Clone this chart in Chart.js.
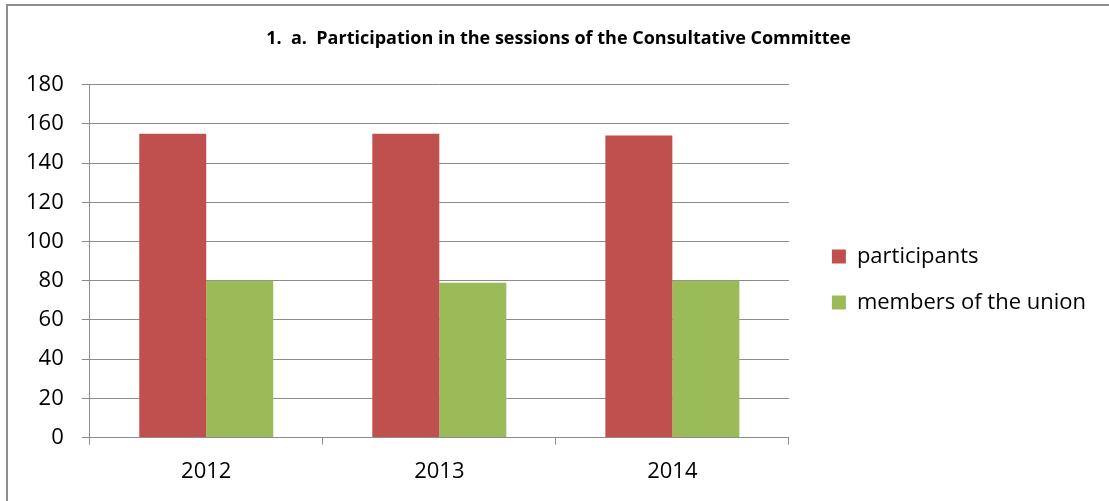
<!DOCTYPE html>
<html>
<head>
<meta charset="utf-8">
<script src="https://cdn.jsdelivr.net/npm/chart.js@4"></script>
<style>
  body { margin: 0; background: #fff; }
  #wrap { position: absolute; left: 0; top: 0; width: 1109px; height: 501px; }
  #frame { position: absolute; left: 6px; top: 4px; width: 1200px; height: 600px;
           border-left: 2px solid #8e8e8e; border-top: 2px solid #8e8e8e; }
</style>
</head>
<body>
<div id="frame"></div>
<div id="wrap"><canvas id="section"></canvas></div>
<script>
let years = ["2012", "2013", "2014"];
let participants = [155, 155, 154];
let members = [80, 79, 80];
let yTicks = [0, 20, 40, 60, 80, 100, 120, 140, 160, 180];

let font = "'Open Sans', 'Liberation Sans', sans-serif";
let gridColor = "#8c8c8c";

// blank scale used only as horizontal spacing
function spacer(width, weight) {
  return {
    type: "linear",
    position: "right",
    display: true,
    weight: weight,
    grid: { display: false },
    border: { display: false },
    ticks: { display: false },
    afterFit: (scale) => {
      scale.width = width;
    },
  };
}

const ctx = document.getElementById("section");

new Chart(ctx, {
  type: "bar",
  data: {
    labels: years,
    datasets: [
      {
        label: "participants",
        data: participants,
        backgroundColor: "#c0504d",
        barPercentage: 1,
        categoryPercentage: 0.575,
      },
      {
        label: "members of the union",
        data: members,
        backgroundColor: "#9bbb59",
        barPercentage: 1,
        categoryPercentage: 0.575,
      },
    ],
  },
  options: {
    responsive: true,
    maintainAspectRatio: false,
    animation: false,
    layout: {
      padding: { left: 8, top: 18, bottom: 2, right: 0 },
    },
    plugins: {
      title: {
        display: true,
        text: "1.  a.  Participation in the sessions of the Consultative Committee",
        color: "#000",
        font: { family: font, size: 18, weight: "bold" },
        padding: { top: 10, bottom: 35 },
      },
      legend: {
        position: "right",
        maxWidth: 400,
        // blank legend title, only pushes the two entries a bit lower
        title: {
          display: true,
          text: " ",
          font: { family: font, size: 10 },
          padding: { top: 15, bottom: 15 },
        },
        labels: {
          color: "#000",
          font: { family: font, size: 22 },
          boxWidth: 14,
          boxHeight: 14,
          padding: 24,
        },
      },
      tooltip: { enabled: false },
    },
    scales: {
      x: {
        grid: {
          offset: true,
          drawOnChartArea: false,
          color: gridColor,
          tickLength: 7,
        },
        border: { color: gridColor },
        ticks: {
          color: "#000",
          font: { family: font, size: 22 },
          padding: 14,
        },
      },
      y: {
        min: 0,
        max: 180,
        afterBuildTicks: (scale) => {
          scale.ticks = yTicks.map((v) => ({ value: v }));
        },
        grid: { color: gridColor, tickLength: 8 },
        border: { color: gridColor },
        ticks: {
          color: "#000",
          font: { family: font, size: 22 },
          padding: 18,
        },
      },
      gapInner: spacer(19, 0),
      gapOuter: spacer(13, 2000),
    },
  },
});
</script>
</body>
</html>
